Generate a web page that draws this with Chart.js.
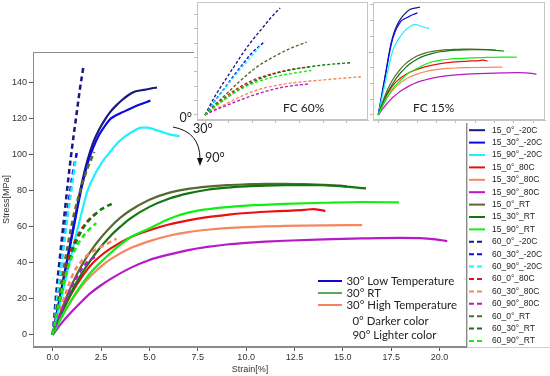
<!DOCTYPE html>
<html>
<head>
<meta charset="utf-8">
<script src="https://cdn.jsdelivr.net/npm/chart.js@4.4.1/dist/chart.umd.min.js"></script>
<style>
  html, body { margin: 0; padding: 0; background: #fff; }
  #wrap { position: relative; width: 550px; height: 376px; overflow: hidden; background: #fff; }
  #main { position: absolute; left: 0; top: 0; }
  .inset { position: absolute; top: 0; background: #fff; }
  #fc60 { left: 194px; }
  #fc15 { left: 370px; }
</style>
</head>
<body>
<div id="wrap">
  <canvas id="main" width="550" height="376"></canvas>
  <canvas id="fc60" class="inset" width="175" height="123"></canvas>
  <canvas id="fc15" class="inset" width="180" height="123"></canvas>
</div>
<script>
// ---- data (strain %, stress MPa) ----
var s15_0_m20  = [[0,0],[0.5,28],[1,56],[1.5,84],[1.8,97],[2.1,107],[2.4,114],[2.7,119.5],[3,124],[3.3,127.5],[3.6,130.5],[3.9,133],[4.2,134.8],[4.5,135.6],[4.9,136.3],[5.2,137],[5.39,137.2]];
var s15_30_m20 = [[0,0],[0.5,27.5],[1,55],[1.5,82],[1.8,95],[2.1,104],[2.4,111],[2.7,116],[3,120],[3.3,122],[3.6,123.5],[4,125.5],[4.5,127.8],[5.05,130]];
var s15_90_m20 = [[0,0],[0.5,23],[1,46],[1.5,68],[1.8,80],[2.2,89.5],[2.6,96.5],[3,102],[3.4,107],[3.8,110.5],[4.2,113.3],[4.6,115],[4.9,115],[5.2,114.2],[5.6,112.8],[6,111.4],[6.56,110.2]];
var s15_0_80   = [[0,0],[0.5,13],[1,23.5],[1.5,32],[2,39],[2.5,44],[3,48],[4,54],[5,58],[6,61.2],[7,63.5],[8,65.3],[9,66.6],[10,67.6],[11,68.3],[12,68.8],[13,69.3],[13.5,69.8],[13.8,69.3],[14.1,68.7]];
var s15_30_80  = [[0,0],[0.5,10.5],[1,19.5],[1.5,27],[2,33],[2.5,38],[3,42],[4,48],[5,52],[6,55],[7,57],[8,58.3],[9,59.2],[10,59.8],[11,60.2],[12,60.4],[14,60.7],[16,60.9]];
var s15_90_80  = [[0,0],[0.5,7],[1,13],[1.5,18.5],[2,23.5],[2.5,27.5],[3,31],[4,37],[5,41.5],[6,44.5],[7,47],[8,48.8],[9,50.1],[10,51],[11,51.7],[12,52.2],[14,53],[16,53.5],[18,53.8],[19,53.7],[19.8,53],[20.4,52]];
var s15_0_RT   = [[0,0],[0.5,15],[1,28],[1.5,38.5],[2,47],[2.5,54],[3,60],[3.5,65],[4,69],[5,75],[6,78.8],[7,81],[8,82.3],[9,83.1],[10,83.5],[11,83.8],[12,83.8],[13,83.6],[14,83.2],[15,82.7],[15.2,82.4]];
var s15_30_RT  = [[0,0],[0.5,13],[1,24.5],[1.5,34],[2,42],[2.5,49],[3,55],[3.5,60],[4,64.5],[5,71],[6,75.5],[7,78.5],[8,80.5],[9,81.7],[10,82.4],[11,82.8],[12,83],[13,83.1],[14,83],[15,82.4],[15.6,81.8],[16.2,81.3]];
var s15_90_RT  = [[0,0],[0.5,10.5],[1,20],[1.5,28],[2,35],[2.5,40.5],[3,45.5],[3.5,50],[4,54],[5,59],[6,64.3],[7,67.8],[8,69.7],[9,70.9],[10,71.7],[12,72.7],[14,73.3],[16,73.7],[17.9,73.5]];
var s60_0_m20  = [[0,0],[0.2,25],[0.4,46],[0.6,66],[0.8,86],[1,104],[1.2,120],[1.4,136],[1.59,149]];
var s60_30_m20 = [[0,0],[0.2,19],[0.4,36],[0.6,54],[0.8,71],[1,87],[1.27,102.5]];
var s60_90_m20 = [[0,0],[0.2,18],[0.4,35],[0.6,52],[0.8,68],[1,83],[1.18,97]];
var s60_0_80   = [[0,0],[0.2,12.5],[0.4,23.5],[0.7,37.5],[1,48],[1.4,57],[1.8,63],[2.2,67.2]];
var s60_30_80  = [[0,0],[0.2,8],[0.4,14],[0.75,25.5],[1.1,34.8],[1.45,40.4],[1.8,44.3],[2.5,48.8],[3.3,53.3]];
var s60_90_80  = [[0,0],[0.2,6.5],[0.4,11.8],[0.75,21],[1.1,29.2],[1.45,35.8],[1.8,40.4],[2.19,43.2]];
var s60_0_RT   = [[0,0],[0.2,14],[0.4,26],[0.75,48],[1.1,67],[1.45,81],[1.8,92.5],[2.15,101.5]];
var s60_30_RT  = [[0,0],[0.2,11.5],[0.4,21],[0.75,37],[1.1,48.7],[1.45,57],[1.8,62.7],[2.15,66.4],[2.5,69.6],[3.07,72.8]];
var s60_90_RT  = [[0,0],[0.2,11],[0.4,21],[0.7,34],[1,43.5],[1.4,52],[1.8,57.5],[2.25,62]];

var seriesLabels = ['15_0°_-20C', '15_30°_-20C', '15_90°_-20C', '15_0°_80C', '15_30°_80C', '15_90°_80C', '15_0°_RT', '15_30°_RT', '15_90°_RT',
                    '60_0°_-20C', '60_30°_-20C', '60_90°_-20C', '60_0°_80C', '60_30°_80C', '60_90°_80C', '60_0°_RT', '60_30°_RT', '60_90°_RT'];
var seriesData = [s15_0_m20, s15_30_m20, s15_90_m20, s15_0_80, s15_30_80, s15_90_80, s15_0_RT, s15_30_RT, s15_90_RT,
                  s60_0_m20, s60_30_m20, s60_90_m20, s60_0_80, s60_30_80, s60_90_80, s60_0_RT, s60_30_RT, s60_90_RT];
var baseColors = ['#1a1a7e', '#0a0ae6', '#1ef0ff', '#e81010', '#f7875f', '#b51bc4', '#556b2f', '#117711', '#11ee11'];

var xTicks = [0, 2.5, 5, 7.5, 10, 12.5, 15, 17.5, 20];
var xTickLabels = ['0.0', '2.5', '5.0', '7.5', '10.0', '12.5', '15.0', '17.5', '20.0'];
var yTicks = [0, 20, 40, 60, 80, 100, 120, 140];
var yTickLabels = ['0', '20', '40', '60', '80', '100', '120', '140'];
var fc60xTicks = [0, 0.5, 1, 1.5, 2, 2.5, 3];
var fc15xTicks = [0, 2.5, 5, 7.5, 10, 12.5, 15, 17.5, 20];

var noteLabels = ['30° Low Temperature', '30° RT', '30° High Temperature'];
var noteColors = ['#0a0acc', '#5aa85a', '#f4845c'];
var shadeNotes = ['0° Darker color', '90° Lighter color'];
var angleNotes = ['0°', '30°', '90°'];

// ---- helpers ----
function toPoints(arr) {
  return arr.map(function (p) { return { x: p[0], y: p[1] }; });
}

function buildSets(from, to, width, dash) {
  var sets = [];
  for (var i = from; i < to; i++) {
    sets.push({
      label: seriesLabels[i],
      data: toPoints(seriesData[i]),
      borderColor: baseColors[i % 9],
      backgroundColor: baseColors[i % 9],
      borderWidth: i < 9 ? width : width * 1.15,
      borderDash: i < 9 ? [] : dash,
      showLine: true,
      pointRadius: 0,
      cubicInterpolationMode: 'monotone',
      order: -i
    });
  }
  return sets;
}

// frame on all four sides (matplotlib-like spines)
var framePlugin = {
  id: 'frame',
  afterDatasetsDraw: function (chart, args, opts) {
    var a = chart.chartArea, ctx = chart.ctx;
    ctx.save();
    ctx.strokeStyle = opts.color || '#999';
    ctx.lineWidth = 1;
    ctx.strokeRect(a.left + 0.5, a.top + 0.5, a.right - a.left - 1, a.bottom - a.top - 1);
    ctx.restore();
  }
};

// annotations, arrow and the side legend
var notesPlugin = {
  id: 'notes',
  afterDraw: function (chart) {
    var ctx = chart.ctx;
    ctx.save();
    ctx.font = '11.4px Lato, "Open Sans", sans-serif';
    ctx.textBaseline = 'middle';
    ctx.fillStyle = '#222';

    // in-plot legend
    var ys = [281, 293, 305];
    noteLabels.forEach(function (t, i) {
      ctx.strokeStyle = noteColors[i];
      ctx.lineWidth = 2;
      ctx.beginPath(); ctx.moveTo(318, ys[i]); ctx.lineTo(342, ys[i]); ctx.stroke();
      ctx.fillText(t, 346.5, ys[i]);
    });
    ctx.fillText(shadeNotes[0], 352.5, 321);
    ctx.fillText(shadeNotes[1], 352.5, 335);

    // angle arrow
    ctx.font = '12.5px Lato, "Open Sans", sans-serif';
    ctx.fillText(angleNotes[0], 179.5, 118);
    ctx.fillText(angleNotes[1], 193, 129);
    ctx.fillText(angleNotes[2], 205, 158);
    ctx.strokeStyle = '#111';
    ctx.lineWidth = 1;
    ctx.beginPath();
    ctx.moveTo(173, 127);
    ctx.quadraticCurveTo(200, 132, 200, 159);
    ctx.stroke();
    ctx.fillStyle = '#111';
    ctx.beginPath();
    ctx.moveTo(197, 158); ctx.lineTo(203, 158); ctx.lineTo(200, 166); ctx.closePath();
    ctx.fill();

    // side legend box
    ctx.fillStyle = '#fff';
    ctx.fillRect(467, 122, 90, 226);
    ctx.strokeStyle = '#cfcfcf';
    ctx.strokeRect(467.5, 122.5, 90, 225);
    ctx.font = '8.5px "Liberation Sans", Arial, sans-serif';
    chart.data.datasets.forEach(function (ds, i) {
      var y = 130.2 + i * 12.4;
      ctx.strokeStyle = ds.borderColor;
      ctx.lineWidth = 2;
      ctx.setLineDash(ds.borderDash.length ? [5, 3] : []);
      ctx.beginPath(); ctx.moveTo(469, y); ctx.lineTo(485, y); ctx.stroke();
      ctx.setLineDash([]);
      ctx.fillStyle = '#222';
      ctx.fillText(ds.label, 492, y);
    });
    ctx.restore();
  }
};

function insetLabel(text, x) {
  return {
    id: 'lbl',
    afterDraw: function (chart) {
      var ctx = chart.ctx;
      ctx.save();
      ctx.font = '12px Lato, "Open Sans", sans-serif';
      ctx.fillStyle = '#222';
      ctx.textBaseline = 'middle';
      ctx.fillText(text, x, 108);
      ctx.restore();
    }
  };
}

// ---- main chart ----
new Chart(document.getElementById('main').getContext('2d'), {
  type: 'scatter',
  data: { datasets: buildSets(0, 18, 2.2, [5, 3.5]) },
  options: {
    responsive: false,
    animation: false,
    layout: { padding: { left: 0, top: 52, right: 83, bottom: 0 } },
    plugins: { legend: { display: false }, tooltip: { enabled: false }, frame: { color: '#8a8a8a' } },
    scales: {
      x: {
        type: 'linear', min: -1.02, max: 21.42,
        afterFit: function (s) { s.height = 29; },
        afterBuildTicks: function (s) { s.ticks = xTicks.map(function (v) { return { value: v }; }); },
        ticks: {
          autoSkip: false, maxRotation: 0, padding: 1,
          font: { family: '"Liberation Sans", Arial, sans-serif', size: 9 }, color: '#333',
          callback: function (v) { return xTickLabels[xTicks.indexOf(v)]; }
        },
        grid: { drawOnChartArea: false, tickLength: 4, color: '#555' },
        border: { color: '#8a8a8a' },
        title: { display: true, text: 'Strain[%]', color: '#333', padding: { top: 0, bottom: 1.5 },
                 font: { family: '"Liberation Sans", Arial, sans-serif', size: 9 } }
      },
      y: {
        type: 'linear', min: -6.8, max: 157,
        afterFit: function (s) { s.width = 33; },
        afterBuildTicks: function (s) { s.ticks = yTicks.map(function (v) { return { value: v }; }); },
        ticks: {
          autoSkip: false, padding: 2,
          font: { family: '"Liberation Sans", Arial, sans-serif', size: 9 }, color: '#333',
          callback: function (v) { return yTickLabels[yTicks.indexOf(v)]; }
        },
        grid: { drawOnChartArea: false, tickLength: 4, color: '#555' },
        border: { color: '#8a8a8a' },
        title: { display: true, text: 'Stress[MPa]', color: '#333', padding: { top: 1, bottom: 0 },
                 font: { family: '"Liberation Sans", Arial, sans-serif', size: 9 } }
      }
    }
  },
  plugins: [framePlugin, notesPlugin]
});

// ---- insets (same curves, zoomed) ----
function inset(id, from, to, xr, yr, xt, pad, label, lx) {
  new Chart(document.getElementById(id).getContext('2d'), {
    type: 'scatter',
    data: { datasets: buildSets(from, to, 1.2, [3, 2]) },
    options: {
      responsive: false,
      animation: false,
      layout: { padding: pad },
      plugins: { legend: { display: false }, tooltip: { enabled: false }, frame: { color: '#c4c4c4' } },
      scales: {
        x: {
          type: 'linear', min: xr[0], max: xr[1],
          afterFit: function (s) { s.height = 3; },
          afterBuildTicks: function (s) { s.ticks = xt.map(function (v) { return { value: v }; }); },
          ticks: { display: false },
          grid: { drawOnChartArea: false, tickLength: 3, color: '#bdbdbd' },
          border: { color: '#c4c4c4' }
        },
        y: {
          type: 'linear', min: yr[0], max: yr[1],
          afterFit: function (s) { s.width = 3; },
          afterBuildTicks: function (s) { s.ticks = yTicks.map(function (v) { return { value: v }; }); },
          ticks: { display: false },
          grid: { drawOnChartArea: false, tickLength: 3, color: '#bdbdbd' },
          border: { color: '#c4c4c4' }
        }
      }
    },
    plugins: [framePlugin, insetLabel(label, lx)]
  });
}

inset('fc60', 9, 18, [-0.17, 3.45], [-7, 157.4], fc60xTicks, { left: 0, right: 1, top: 2, bottom: 0 }, 'FC 60%', 89);
inset('fc15', 0, 9, [-0.68, 21.5], [-6.4, 143.8], fc15xTicks, { left: 0, right: 5, top: 2, bottom: 0 }, 'FC 15%', 43);
</script>
</body>
</html>
